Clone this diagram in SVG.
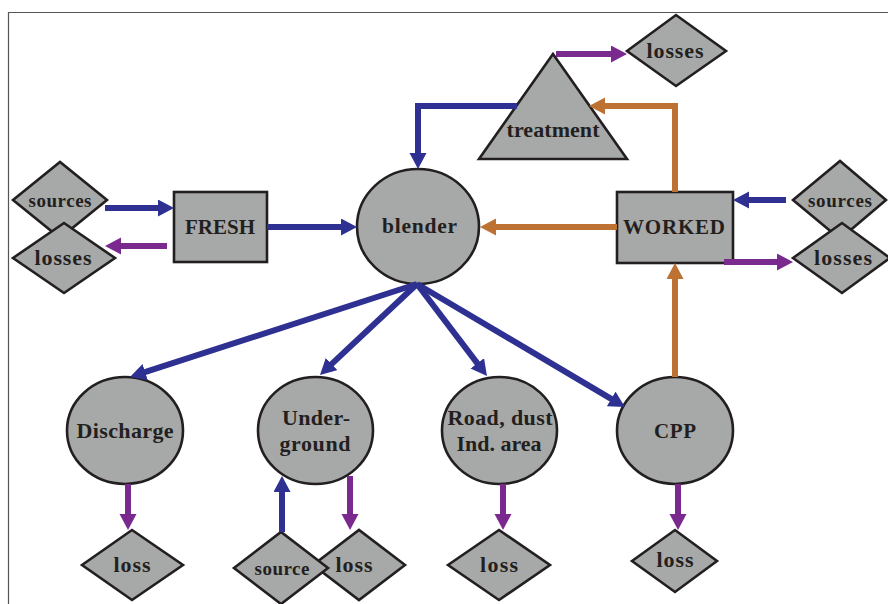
<svg xmlns="http://www.w3.org/2000/svg" width="888" height="604" viewBox="0 0 888 604">
<style>
.n{fill:#a7a9a8;stroke:#231f20;stroke-width:2.6;stroke-linejoin:miter}
.t{font-family:"Liberation Serif",serif;font-weight:bold;fill:#231f20;text-anchor:middle}
.b{stroke:#2e3192;stroke-width:6;fill:none}
.p{stroke:#7a2a8e;stroke-width:6;fill:none}
.o{stroke:#bd7133;stroke-width:6;fill:none}
.f{fill:none;stroke:#555;stroke-width:1.2}
</style>
<defs>
<marker id="mb" markerUnits="userSpaceOnUse" markerWidth="18" markerHeight="18" refX="2" refY="8.5" orient="auto"><path d="M0,0 L16,8.5 L0,17 z" fill="#2e3192"/></marker>
<marker id="mp" markerUnits="userSpaceOnUse" markerWidth="18" markerHeight="18" refX="2" refY="8.5" orient="auto"><path d="M0,0 L16,8.5 L0,17 z" fill="#7a2a8e"/></marker>
<marker id="mo" markerUnits="userSpaceOnUse" markerWidth="18" markerHeight="18" refX="2" refY="8.5" orient="auto"><path d="M0,0 L16,8.5 L0,17 z" fill="#bd7133"/></marker>
</defs>
<rect width="888" height="604" fill="#fff"/>
<path class="f" d="M8.5,604 V12.5 H888"/>

<g id="sources-left"><polygon class="n" points="13,200 60,162 107,200 60,238"/><text class="t" x="60" y="207" font-size="19" textLength="63">sources</text></g>
<g id="losses-left"><polygon class="n" points="13,258 64,223 115,258 64,293"/><text class="t" x="63" y="265" font-size="22" textLength="57">losses</text></g>
<g id="fresh"><rect class="n" x="174" y="192" width="93" height="70"/><text class="t" x="220" y="234" font-size="21" textLength="70">FRESH</text></g>
<g id="blender"><ellipse class="n" cx="418" cy="226.5" rx="61" ry="57.5"/><text class="t" x="419.5" y="233" font-size="21.5" textLength="75">blender</text></g>
<g id="treatment"><polygon class="n" points="553,54 479,159 627,159"/><text class="t" x="553" y="137" font-size="22" textLength="93">treatment</text></g>
<g id="losses-top"><polygon class="n" points="627,51 676,15 726,51 676,86"/><text class="t" x="675" y="58" font-size="22" textLength="57">losses</text></g>
<g id="worked"><rect class="n" x="617" y="192" width="116" height="71"/><text class="t" x="674" y="234" font-size="21" textLength="102">WORKED</text></g>
<g id="sources-right"><polygon class="n" points="793,200 840,161 886,200 840,239"/><text class="t" x="840" y="207" font-size="19" textLength="64">sources</text></g>
<g id="losses-right"><polygon class="n" points="793,258 842,223 890,258 842,293"/><text class="t" x="843" y="265" font-size="22" textLength="58">losses</text></g>
<g id="discharge"><ellipse class="n" cx="125" cy="430.5" rx="58" ry="53.5"/><text class="t" x="125" y="438" font-size="22" textLength="97">Discharge</text></g>
<g id="underground"><ellipse class="n" cx="315.5" cy="430.5" rx="57.5" ry="53.5"/><text class="t" x="316" y="425" font-size="22" textLength="68">Under-</text><text class="t" x="315" y="451" font-size="22" textLength="71">ground</text></g>
<g id="road"><ellipse class="n" cx="499.5" cy="430.5" rx="57.5" ry="53.5"/><text class="t" x="500" y="425" font-size="22" textLength="105">Road, dust</text><text class="t" x="499" y="451" font-size="22" textLength="85">Ind. area</text></g>
<g id="cpp"><ellipse class="n" cx="675" cy="430.5" rx="58" ry="53.5"/><text class="t" x="675" y="438" font-size="21" textLength="42">CPP</text></g>
<g id="loss-discharge"><polygon class="n" points="82,565 132,530 183,565 132,600"/><text class="t" x="132" y="572" font-size="22" textLength="37">loss</text></g>
<g id="loss-underground"><polygon class="n" points="313,565 359,530 405,565 359,600"/><text class="t" x="354" y="572" font-size="22" textLength="37">loss</text></g>
<g id="source-underground"><polygon class="n" points="234,568 281,532 328,568 281,604"/><text class="t" x="282" y="575" font-size="19" textLength="55">source</text></g>
<g id="loss-road"><polygon class="n" points="448,565 499,530 550,565 499,600"/><text class="t" x="499" y="572" font-size="22" textLength="38">loss</text></g>
<g id="loss-cpp"><polygon class="n" points="632,561 675,530 717,561 675,592"/><text class="t" x="675" y="567" font-size="22" textLength="37">loss</text></g>

<g id="connectors">
<line class="b" x1="105" y1="208" x2="160" y2="208" marker-end="url(#mb)"/>
<line class="b" x1="267" y1="227" x2="343" y2="227" marker-end="url(#mb)"/>
<path class="b" d="M517,106 H418 V155" marker-end="url(#mb)"/>
<line class="b" x1="786" y1="200" x2="747" y2="200" marker-end="url(#mb)"/>
<line class="b" x1="417" y1="284" x2="143.3" y2="372.7" marker-end="url(#mb)"/>
<line class="b" x1="417" y1="284" x2="330.2" y2="365.4" marker-end="url(#mb)"/>
<line class="b" x1="417" y1="284" x2="478.5" y2="364.9" marker-end="url(#mb)"/>
<line class="b" x1="417" y1="284" x2="612.9" y2="399.9" marker-end="url(#mb)"/>
<line class="b" x1="282" y1="532" x2="282" y2="490" marker-end="url(#mb)"/>
<line class="p" x1="167" y1="246" x2="119" y2="246" marker-end="url(#mp)"/>
<line class="p" x1="556" y1="54" x2="613" y2="54" marker-end="url(#mp)"/>
<line class="p" x1="724" y1="262" x2="779" y2="262" marker-end="url(#mp)"/>
<line class="p" x1="128" y1="484" x2="128" y2="516" marker-end="url(#mp)"/>
<line class="p" x1="350" y1="476" x2="350" y2="516" marker-end="url(#mp)"/>
<line class="p" x1="503" y1="484" x2="503" y2="516" marker-end="url(#mp)"/>
<line class="p" x1="678" y1="484" x2="678" y2="516" marker-end="url(#mp)"/>
<path class="o" d="M675,192 V106 H603" marker-end="url(#mo)"/>
<line class="o" x1="617" y1="227" x2="494" y2="227" marker-end="url(#mo)"/>
<line class="o" x1="675" y1="377" x2="675" y2="277" marker-end="url(#mo)"/>
</g>
</svg>
